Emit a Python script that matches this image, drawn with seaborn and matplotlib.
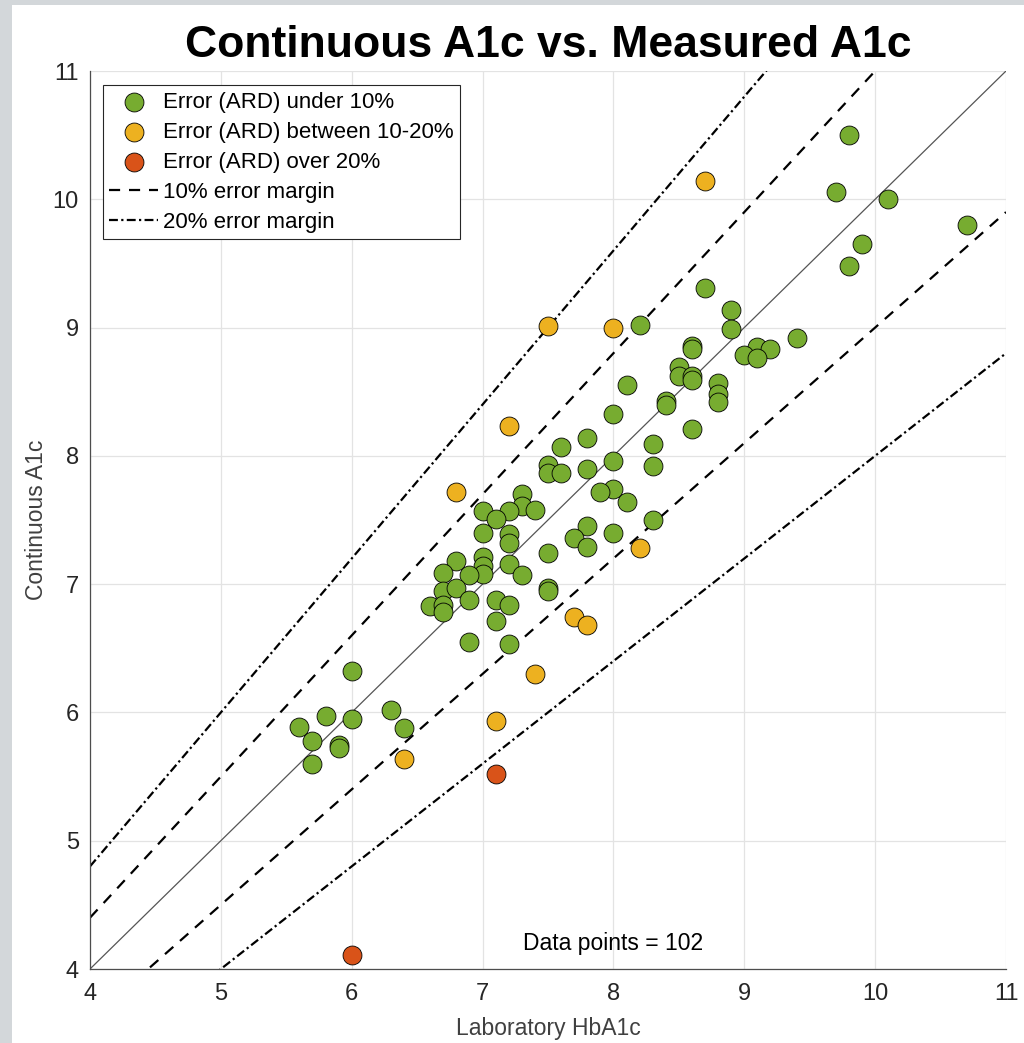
import numpy as np
import pandas as pd
import seaborn as sns
import matplotlib.pyplot as plt
from matplotlib.patches import Rectangle

# values
green_lab = [9.8, 9.7, 10.1, 10.7, 9.9, 9.8, 8.7, 8.9, 8.9, 9.4, 9.1, 9.2, 9.0, 9.1,
             8.6, 8.6, 8.5, 8.5, 8.6, 8.6, 8.8, 8.8, 8.8, 8.4, 8.4, 8.6, 8.3, 8.2,
             8.1, 8.0, 7.8, 7.6, 8.3, 8.0, 7.8, 7.5, 7.5, 7.6, 8.0, 7.9, 8.1, 7.3,
             7.3, 7.2, 7.4, 8.3, 7.8, 8.0, 7.7, 7.8, 7.5, 7.2, 7.2, 7.0, 7.1, 7.0,
             6.8, 7.0, 7.0, 7.0, 6.9, 7.2, 7.3, 6.7, 6.7, 6.8, 7.5, 7.5, 6.9, 7.1,
             7.2, 6.6, 6.7, 6.7, 7.1, 6.9, 7.2, 6.0, 6.3, 5.8, 5.6, 6.0, 6.4, 5.7,
             5.9, 5.9, 5.7]
green_cont = [10.50, 10.06, 10.00, 9.80, 9.65, 9.48, 9.31, 9.14, 8.99, 8.92, 8.85, 8.83,
              8.79, 8.76, 8.86, 8.83, 8.69, 8.62, 8.62, 8.59, 8.57, 8.48, 8.42, 8.43,
              8.40, 8.21, 8.09, 9.02, 8.55, 8.33, 8.14, 8.07, 7.92, 7.96, 7.90, 7.93,
              7.87, 7.87, 7.74, 7.72, 7.64, 7.70, 7.61, 7.57, 7.58, 7.50, 7.45, 7.40,
              7.36, 7.29, 7.24, 7.39, 7.32, 7.57, 7.51, 7.40, 7.18, 7.21, 7.14, 7.08,
              7.07, 7.16, 7.07, 7.09, 6.95, 6.97, 6.97, 6.95, 6.88, 6.88, 6.84, 6.83,
              6.84, 6.78, 6.71, 6.55, 6.53, 6.32, 6.02, 5.97, 5.89, 5.95, 5.88, 5.78,
              5.75, 5.72, 5.60]
orange_lab = [8.7, 7.5, 8.0, 7.2, 6.8, 8.2, 7.7, 7.8, 7.4, 7.1, 6.4]
orange_cont = [10.14, 9.01, 9.00, 8.23, 7.72, 7.28, 6.74, 6.68, 6.30, 5.93, 5.64]
red_lab = [7.1, 6.0]
red_cont = [5.52, 4.11]

line_x = [4, 11]
margin10 = [1.1, 0.9]
margin20 = [1.2, 0.8]
n_points = 102

green = '#77AC30'
orange = '#EDB120'
red = '#D95319'

sns.set_style('whitegrid')
plt.rcParams['font.family'] = ['Liberation Sans', 'DejaVu Sans']

fig = plt.figure(figsize=(10.24, 10.43), dpi=100, facecolor='#d3d7da')
fig.patches.append(Rectangle((12 / 1024, 0), 1, 1 - 5 / 1043, transform=fig.transFigure,
                             facecolor='white', edgecolor='none', zorder=-1))
ax = fig.add_axes([90 / 1024, 1 - 969 / 1043, 916 / 1024, 898 / 1043])

# reference lines
lx = np.array(line_x, dtype=float)
sns.lineplot(x=lx, y=lx, color='#555555', linewidth=0.9, ax=ax, legend=False)
for i, f in enumerate(margin10):
    sns.lineplot(x=lx, y=f * lx, color='black', linewidth=1.6, linestyle=(0, (5, 4)),
                 ax=ax, label='10% error margin' if i == 0 else '_nolegend_')
for i, f in enumerate(margin20):
    sns.lineplot(x=lx, y=f * lx, color='black', linewidth=1.6, linestyle=(0, (4, 1.5, 1, 1.5)),
                 ax=ax, label='20% error margin' if i == 0 else '_nolegend_')

kw = dict(s=185, edgecolor='black', linewidth=0.6, ax=ax, zorder=3)
sns.scatterplot(x=green_lab, y=green_cont, color=green, label='Error (ARD) under 10%', **kw)
sns.scatterplot(x=orange_lab, y=orange_cont, color=orange, label='Error (ARD) between 10-20%', **kw)
sns.scatterplot(x=red_lab, y=red_cont, color=red, label='Error (ARD) over 20%', **kw)

ax.set_xlim(4, 11)
ax.set_ylim(4, 11)
ax.set_xticks(range(4, 12))
ax.set_yticks(range(4, 12))
ax.grid(True, color='#e3e3e3', linewidth=0.9)
for s in ['top', 'right']:
    ax.spines[s].set_visible(False)
for s in ['left', 'bottom']:
    ax.spines[s].set_color('#4d4d4d')
    ax.spines[s].set_linewidth(0.9)
ax.tick_params(direction='in', length=7.5, width=0.9, colors='#4d4d4d',
               labelcolor='#262626', labelsize=17)
ax.tick_params(axis='x', pad=10)
ax.tick_params(axis='y', pad=8)

ax.set_xlabel('Laboratory HbA1c', fontsize=16.5, color='#404040', labelpad=9)
ax.set_ylabel('Continuous A1c', fontsize=16.5, color='#404040', labelpad=3)
ax.set_title('Continuous A1c vs. Measured A1c', fontsize=32, fontweight='bold',
             color='black', pad=10)

ax.text(8.0, 4.2, f'Data points = {n_points}', fontsize=16.5, ha='center', va='center',
        color='black')

handles, labels = ax.get_legend_handles_labels()
order = [labels.index(l) for l in ['Error (ARD) under 10%', 'Error (ARD) between 10-20%',
                                   'Error (ARD) over 20%', '10% error margin', '20% error margin']]
leg = ax.legend([handles[i] for i in order], [labels[i] for i in order],
                loc='upper left', bbox_to_anchor=(0.014, 0.984), fontsize=16,
                frameon=True, fancybox=False, edgecolor='#262626', framealpha=1,
                handlelength=2.2, handletextpad=0.2, labelspacing=0.4, borderpad=0.3,
                borderaxespad=0)
leg.get_frame().set_linewidth(0.8)
for t in leg.get_texts():
    t.set_color('black')

fig.savefig('out.png', dpi=100, facecolor=fig.get_facecolor())
